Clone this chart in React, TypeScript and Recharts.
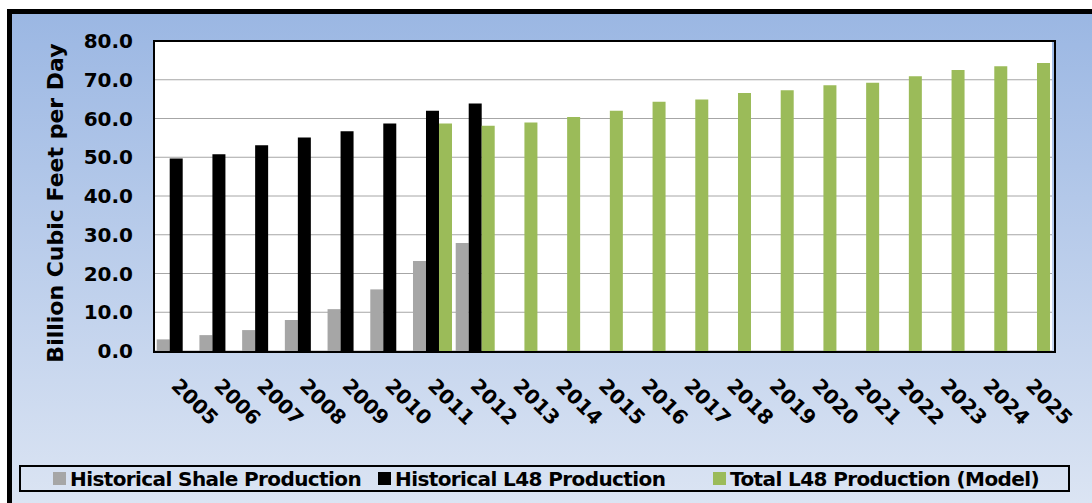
import { Bar, BarChart, CartesianGrid, XAxis, YAxis } from 'recharts'

const years = [
  '2005', '2006', '2007', '2008', '2009', '2010', '2011', '2012', '2013', '2014', '2015',
  '2016', '2017', '2018', '2019', '2020', '2021', '2022', '2023', '2024', '2025',
]
const shaleHistory = [3.0, 4.1, 5.4, 8.0, 10.8, 15.9, 23.2, 27.9]
const l48History = [49.7, 50.8, 53.1, 55.1, 56.7, 58.7, 62.0, 63.9]
const modelFirstYear = '2011'
const l48Model = [58.7, 58.1, 59.0, 60.4, 62.0, 64.3, 64.9, 66.6, 67.3, 68.6, 69.2, 70.9, 72.5, 73.5, 74.3]
const yTicks = [0, 10, 20, 30, 40, 50, 60, 70, 80]

const series = [
  { key: 'shale', name: 'Historical Shale Production', color: '#A6A6A6' },
  { key: 'hist', name: 'Historical L48 Production', color: '#000000' },
  { key: 'model', name: 'Total L48 Production (Model)', color: '#9BBB59' },
]

const modelStart = years.indexOf(modelFirstYear)
const data = years.map((year, i) => ({
  year,
  shale: i < shaleHistory.length ? shaleHistory[i] : null,
  hist: i < l48History.length ? l48History[i] : null,
  model: i >= modelStart ? l48Model[i - modelStart] : null,
}))

const font = "'DejaVu Sans', Verdana, sans-serif"

const YearTick = ({ x, y, payload }: any) => (
  <g transform={`translate(${x},${y})`}>
    <text
      x={-6}
      y={34}
      transform="rotate(45, -6, 34)"
      textAnchor="start"
      fill="#000"
      fontFamily={font}
      fontWeight="bold"
      fontSize={20}
    >
      {payload.value}
    </text>
  </g>
)

const YLabel = ({ viewBox }: any) => {
  const cx = viewBox.x + 8
  const cy = viewBox.y + viewBox.height / 2 + 7
  return (
    <text
      x={cx}
      y={cy}
      transform={`rotate(-90, ${cx}, ${cy})`}
      textAnchor="middle"
      fill="#000"
      fontFamily={font}
      fontWeight="bold"
      fontSize={22}
    >
      Billion Cubic Feet per Day
    </text>
  )
}

const legendLefts = [53, 378, 713]

export default function App() {
  return (
    <div style={{ position: 'relative', width: 1092, height: 503, overflow: 'hidden', fontFamily: font }}>
      <style>{'body{margin:0}'}</style>
      <div
        style={{
          position: 'absolute',
          left: 7,
          top: 9,
          width: 1120,
          height: 520,
          borderTop: '5px solid #000',
          borderLeft: '5px solid #000',
          background: 'linear-gradient(#9BB7E3, #DFE7F4)',
        }}
      />
      <div style={{ position: 'absolute', left: 0, top: 0 }}>
        <BarChart
          width={1092}
          height={503}
          data={data}
          margin={{ top: 41, right: 40, bottom: 92, left: 55 }}
          barGap={0}
          barCategoryGap="4%"
        >
          <CartesianGrid vertical={false} stroke="#A6A6A6" fill="#FFFFFF" />
          <XAxis
            dataKey="year"
            interval={0}
            height={60}
            tickLine={false}
            tickSize={0}
            axisLine={false}
            tick={<YearTick />}
          />
          <YAxis
            width={100}
            domain={[0, 80]}
            ticks={yTicks}
            tickFormatter={(v: number) => v.toFixed(1)}
            tickLine={false}
            tickSize={0}
            tickMargin={22}
            axisLine={false}
            tick={{ fill: '#000', fontFamily: font, fontWeight: 'bold', fontSize: 20 }}
            label={{ content: <YLabel /> }}
          />
          {series.map((s) => (
            <Bar key={s.key} dataKey={s.key} name={s.name} fill={s.color} isAnimationActive={false} />
          ))}
        </BarChart>
      </div>
      <div
        style={{
          position: 'absolute',
          left: 153,
          top: 40,
          width: 903,
          height: 313,
          border: '2px solid #000',
          boxSizing: 'border-box',
          pointerEvents: 'none',
        }}
      />
      <div
        style={{
          position: 'absolute',
          left: 19,
          top: 465,
          width: 1051,
          height: 27,
          border: '2px solid #000',
          boxSizing: 'border-box',
        }}
      >
        {series.map((s, i) => (
          <div
            key={s.key}
            style={{
              position: 'absolute',
              left: legendLefts[i] - 21,
              top: 0,
              height: 23,
              display: 'flex',
              alignItems: 'center',
              whiteSpace: 'nowrap',
            }}
          >
            <span style={{ display: 'inline-block', width: 13, height: 13, background: s.color, marginRight: 4 }} />
            <span style={{ fontWeight: 'bold', fontSize: 20, letterSpacing: -0.6, color: '#000' }}>{s.name}</span>
          </div>
        ))}
      </div>
    </div>
  )
}
